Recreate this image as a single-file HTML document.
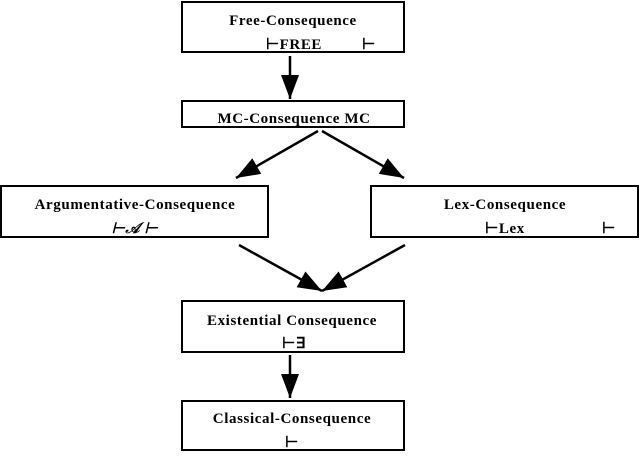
<!DOCTYPE html>
<html><head><style>
body{margin:0;background:#fff;}
svg text{font-family:"Liberation Serif",serif;font-weight:bold;font-size:15px;letter-spacing:0.6px;}
</style></head><body>
<svg width="640" height="452" viewBox="0 0 640 452" xmlns="http://www.w3.org/2000/svg">
<defs>
<marker id="b" markerWidth="24" markerHeight="18" refX="24" refY="9" orient="auto" markerUnits="userSpaceOnUse" viewBox="0 0 24 18"><path d="M0,0 L24,9 L0,18 z" fill="#000"/></marker></defs>
<g fill="#fff" stroke="#000" stroke-width="2">
<rect x="182" y="2" width="222" height="50"/>
<rect x="182" y="101" width="222" height="26"/>
<rect x="1" y="186" width="267" height="51"/>
<rect x="371" y="186" width="267" height="51"/>
<rect x="182" y="301" width="222" height="51"/>
<rect x="182" y="401" width="222" height="49"/>
</g>
<g stroke="#000" stroke-width="2.5" fill="none">
<line x1="290" y1="56" x2="290" y2="99" marker-end="url(#b)"/>
<line x1="318" y1="131" x2="236" y2="178" marker-end="url(#b)"/>
<line x1="322" y1="131" x2="404" y2="178" marker-end="url(#b)"/>
<line x1="239" y1="245" x2="322" y2="291" marker-end="url(#b)"/>
<line x1="405" y1="245" x2="322" y2="291" marker-end="url(#b)"/>
<line x1="290" y1="355" x2="290" y2="398" marker-end="url(#b)"/>
</g>
<g text-anchor="middle">
<text x="293" y="25">Free-Consequence</text>
<text x="294" y="49">⊢FREE</text>
<text x="369" y="49">⊢</text>
<text x="294" y="123">MC-Consequence  MC</text>
<text x="135" y="209">Argumentative-Consequence</text>
<text x="135" y="233" font-style="italic">⊢𝒜 ⊢</text>
<text x="505" y="209">Lex-Consequence</text>
<text x="505" y="233">⊢Lex</text>
<text x="609" y="233">⊢</text>
<text x="292" y="325">Existential   Consequence</text>
<text x="294" y="348" font-weight="normal">⊢∃</text>
<text x="292" y="423">Classical-Consequence</text>
<text x="292" y="447" font-weight="normal">⊢</text>
</g>
</svg>
</body></html>
